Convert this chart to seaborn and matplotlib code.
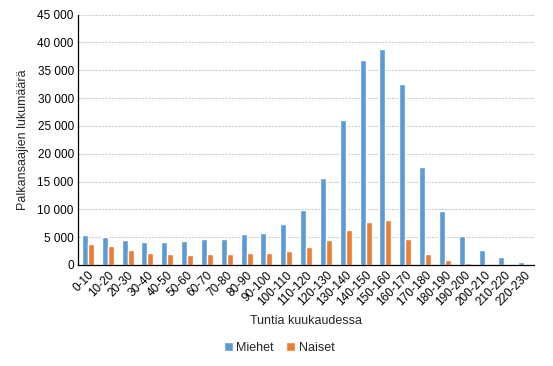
import matplotlib
matplotlib.use("Agg")
import matplotlib.pyplot as plt
from matplotlib.ticker import FuncFormatter
import seaborn as sns
import pandas as pd

# --------- Data ---------
tunnit = ["0-10", "10-20", "20-30", "30-40", "40-50", "50-60", "60-70", "70-80",
          "80-90", "90-100", "100-110", "110-120", "120-130", "130-140", "140-150",
          "150-160", "160-170", "170-180", "180-190", "190-200", "200-210",
          "210-220", "220-230"]
miehet = [5400, 5000, 4450, 4100, 4100, 4300, 4650, 4650, 5550, 5700, 7350, 9850,
          15700, 26100, 36800, 38800, 32500, 17700, 9650, 5200, 2700, 1450, 550]
naiset = [3750, 3400, 2700, 2150, 1950, 1800, 1950, 1950, 2150, 2150, 2500, 3200,
          4450, 6250, 7700, 8050, 4650, 1950, 900, 350, 230, 230, 230]

df = pd.DataFrame({"Tunnit": tunnit * 2,
                   "Lkm": miehet + naiset,
                   "Sukupuoli": ["Miehet"] * len(tunnit) + ["Naiset"] * len(tunnit)})

sns.set_style("white")
plt.rcParams["font.family"] = ["Liberation Sans", "DejaVu Sans"]

fig = plt.figure(figsize=(5.53, 3.66), dpi=100)
ax = fig.add_axes([0.141, 0.276, 0.825, 0.684])

sns.barplot(data=df, x="Tunnit", y="Lkm", hue="Sukupuoli", ax=ax,
            palette=["#5B9BD5", "#ED7D31"], width=0.6, saturation=1, legend=True)

ax.set_ylim(0, 45000)
ax.set_yticks(range(0, 45001, 5000))
ax.yaxis.set_major_formatter(FuncFormatter(lambda v, p: f"{int(v):,}".replace(",", " ")))
ax.grid(True, axis="y", linestyle=(0, (2, 1)), color="#CCCCCC", linewidth=0.8)
ax.set_axisbelow(True)
ax.set_xlim(-0.5, len(tunnit) - 0.5)

for s in ["top", "right"]:
    ax.spines[s].set_visible(False)
ax.spines["left"].set_color("black")
ax.spines["bottom"].set_color("black")
ax.spines["left"].set_linewidth(0.9)
ax.spines["bottom"].set_linewidth(0.9)
ax.tick_params(axis="both", length=0, labelsize=8.5, colors="black", pad=3)
plt.setp(ax.get_xticklabels(), rotation=45, ha="right", rotation_mode="anchor")

ax.set_xlabel("Tuntia kuukaudessa", fontsize=9, labelpad=5)
ax.set_ylabel("Palkansaajien lukumäärä", fontsize=9, labelpad=6)

handles, labels = ax.get_legend_handles_labels()
ax.get_legend().remove()
fig.legend(handles, labels, loc="center", bbox_to_anchor=(0.505, 0.05), ncol=2,
           frameon=False, fontsize=9, handlelength=0.7, handleheight=0.7,
           handletextpad=0.3, columnspacing=1.0)

fig.savefig("out.png", dpi=100)
